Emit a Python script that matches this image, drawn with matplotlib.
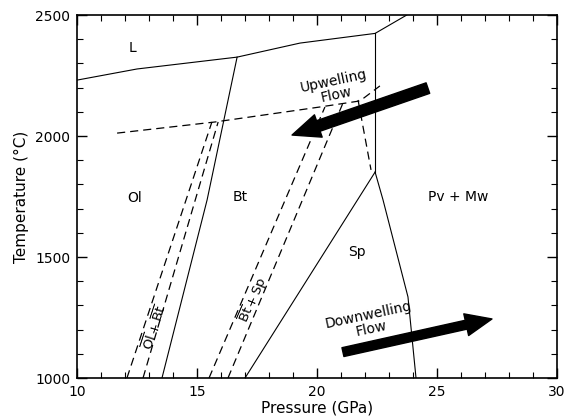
import matplotlib.pyplot as plt
from matplotlib.patches import FancyArrowPatch
from matplotlib.ticker import MultipleLocator

# ----------------------
# phase boundaries (pressure GPa, temperature C)
# ----------------------
liq_p = [10, 12.5, 16.67, 19.29, 22.42, 23.74]
liq_t = [2231, 2277, 2326, 2384, 2424, 2500]

olbt_p = [16.67, 15.42, 13.54]
olbt_t = [2326, 1736, 1000]

vert_p = [22.42, 22.42]
vert_t = [2424, 1851]

pv_p = [22.42, 22.75, 23.79, 24.125]
pv_t = [1851, 1736, 1335, 1000]

btsp_p = [22.42, 17.0]
btsp_t = [1851, 1000]

# dashed lines
sol_p = [11.67, 15.75, 20.125, 21.79, 22.62]
sol_t = [2012, 2058, 2120, 2145, 2207]

olbt_lo_p = [12.08, 15.62]
olbt_lo_t = [1000, 2058]
olbt_hi_p = [12.75, 15.88]
olbt_hi_t = [1000, 2058]

btsp_lo_p = [15.5, 20.33]
btsp_lo_t = [1000, 2120]
btsp_hi_p = [16.29, 21.08]
btsp_hi_t = [1000, 2136]

spd_p = [21.71, 22.25]
spd_t = [2149, 1860]

# labels
region_names = ["L", "Ol", "Bt", "Pv + Mw", "Sp"]
region_p = [12.33, 12.42, 16.8, 25.9, 21.67]
region_t = [2364, 1744, 1750, 1748, 1521]

# arrows (tail -> head)
up_arrow = [(24.62, 2198), (18.96, 2004)]
down_arrow = [(21.08, 1107), (27.29, 1244)]

fig = plt.figure(figsize=(5.71, 4.17), dpi=100)
ax = fig.add_axes([0.1349, 0.0935, 0.8406, 0.8705])

solid = dict(color='black', lw=0.8)
dashed = dict(color='black', lw=0.9, linestyle=(0, (6.5, 4)))

for p, t in [(liq_p, liq_t), (olbt_p, olbt_t), (vert_p, vert_t), (pv_p, pv_t), (btsp_p, btsp_t)]:
    ax.plot(p, t, **solid)
for p, t in [(sol_p, sol_t), (olbt_lo_p, olbt_lo_t), (olbt_hi_p, olbt_hi_t),
             (btsp_lo_p, btsp_lo_t), (btsp_hi_p, btsp_hi_t), (spd_p, spd_t)]:
    ax.plot(p, t, **dashed)

for name, p, t in zip(region_names, region_p, region_t):
    ax.text(p, t, name, ha='center', va='center', fontsize=10)

ax.text(13.25, 1207, r"$\overline{\mathrm{Ol}}+\overline{\mathrm{Bt}}$", rotation=72,
        ha='center', va='center', fontsize=9.5)
ax.text(17.35, 1322, r"$\overline{\mathrm{Bt}}+\mathrm{Sp}$", rotation=67,
        ha='center', va='center', fontsize=9.5)

ax.text(20.75, 2198, "Upwelling\nFlow", rotation=12, ha='center', va='center',
        fontsize=10, linespacing=1.0)
ax.text(22.2, 1231, "Downwelling\nFlow", rotation=12, ha='center', va='center',
        fontsize=10, linespacing=1.0)

for (a, b), tw, hw, hl in [(up_arrow, 8, 17, 20), (down_arrow, 6.5, 16, 19)]:
    arr = FancyArrowPatch(a, b, arrowstyle=f"simple,head_length={hl},head_width={hw},tail_width={tw}",
                          mutation_scale=1, color='black', shrinkA=0, shrinkB=0)
    ax.add_patch(arr)

ax.set_xlim(10, 30)
ax.set_ylim(1000, 2500)
ax.xaxis.set_major_locator(MultipleLocator(5))
ax.xaxis.set_minor_locator(MultipleLocator(1))
ax.yaxis.set_major_locator(MultipleLocator(500))
ax.yaxis.set_minor_locator(MultipleLocator(100))
ax.tick_params(which='both', direction='in', top=True, right=True, labelsize=10, pad=5)
ax.tick_params(which='major', length=7, width=1)
ax.tick_params(which='minor', length=4, width=0.8)
for s in ax.spines.values():
    s.set_linewidth(1.2)

ax.set_xlabel("Pressure (GPa)", fontsize=11, labelpad=1)
ax.set_ylabel("Temperature (°C)", fontsize=11, labelpad=4)

fig.savefig("out.png", dpi=100)
